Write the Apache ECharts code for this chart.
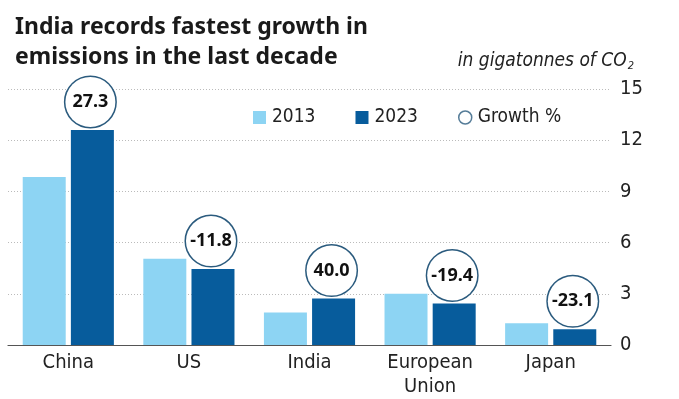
<!DOCTYPE html>
<html>
<head>
<meta charset="utf-8">
<script src="https://cdn.jsdelivr.net/npm/echarts@6/dist/echarts.min.js"></script>
<style>
  html, body { margin: 0; padding: 0; background: #fff; }
  #main { width: 679px; height: 399px; }
</style>
</head>
<body>
<div id="main"></div>
<script>
// data
var countries = ['China', 'US', 'India', 'European\nUnion', 'Japan'];
var emissions2013 = [9.85, 5.05, 1.9, 3.0, 1.27];
var emissions2023 = [12.6, 4.45, 2.72, 2.43, 0.92];
var growthPct = ['27.3', '-11.8', '40.0', '-19.4', '-23.1'];
var yTicks = [0, 3, 6, 9, 12, 15];

var narrow = '"Liberation Sans Narrow", "DejaVu Sans Condensed", sans-serif';
var light = '#8dd4f3';
var dark = '#075c9c';
var ring = '#2b5b7e';

var myChart = echarts.init(document.getElementById('main'));

var option = {
  animation: false,
  backgroundColor: '#fff',
  title: [{
    text: 'India records fastest growth in\nemissions in the last decade',
    left: 10,
    top: 7,
    textStyle: {
      fontFamily: '"Noto Sans", sans-serif',
      fontWeight: 'bold',
      fontSize: 23,
      lineHeight: 30,
      color: '#1a1a1a'
    }
  }, {
    text: 'in gigatonnes of CO{sub|2}',
    right: 40,
    top: 45,
    textStyle: {
      fontFamily: narrow,
      fontStyle: 'italic',
      fontWeight: 'normal',
      fontSize: 19,
      color: '#222',
      rich: {
        sub: {
          fontFamily: narrow,
          fontStyle: 'italic',
          fontSize: 11,
          color: '#222',
          padding: [11, 0, 0, 1]
        }
      }
    }
  }],
  legend: {
    left: 253,
    top: 108,
    padding: 0,
    itemWidth: 13,
    itemHeight: 13,
    itemGap: 40,
    textStyle: { fontFamily: narrow, fontSize: 19, color: '#222', padding: [0, 0, 0, 1] },
    data: [
      { name: '2013', icon: 'rect' },
      { name: '2023', icon: 'rect' },
      { name: 'Growth %', icon: 'circle', itemStyle: { color: '#fff', borderColor: ring, borderWidth: 1.5 } }
    ]
  },
  grid: { left: 8, right: 68, top: 89, bottom: 51 },
  xAxis: {
    type: 'category',
    data: countries,
    axisLine: { lineStyle: { color: '#555', width: 1.2 } },
    axisTick: { show: false },
    axisLabel: {
      fontFamily: narrow,
      fontSize: 20,
      color: '#222',
      margin: 6,
      lineHeight: 24
    }
  },
  yAxis: {
    type: 'value',
    position: 'right',
    min: yTicks[0],
    max: yTicks[yTicks.length - 1],
    interval: 3,
    axisLine: { show: false },
    axisTick: { show: false },
    axisLabel: { fontFamily: narrow, fontSize: 20, color: '#222', margin: 9 },
    splitLine: { lineStyle: { color: '#bbb', type: [1, 2], width: 1 } }
  },
  series: [{
    name: '2013',
    type: 'bar',
    data: emissions2013,
    barWidth: 43,
    barGap: '12%',
    itemStyle: { color: light }
  }, {
    name: '2023',
    type: 'bar',
    data: emissions2023,
    barWidth: 43,
    itemStyle: { color: dark },
    label: {
      show: true,
      position: 'top',
      distance: 3,
      offset: [-2, 0],
      formatter: function (p) { return growthPct[p.dataIndex]; },
      fontFamily: '"Noto Sans", sans-serif',
      fontWeight: 'bold',
      fontSize: 18,
      color: '#111',
      width: 48,
      height: 48,
      lineHeight: 48,
      align: 'center',
      backgroundColor: '#fff',
      borderColor: ring,
      borderWidth: 1.5,
      borderRadius: 26,
      padding: 1
    }
  }, {
    name: 'Growth %',
    type: 'scatter',
    data: [],
    symbol: 'emptyCircle',
    itemStyle: { color: ring }
  }]
};

myChart.setOption(option);
window.onresize = function () {
  myChart.resize();
};
</script>
</body>
</html>
